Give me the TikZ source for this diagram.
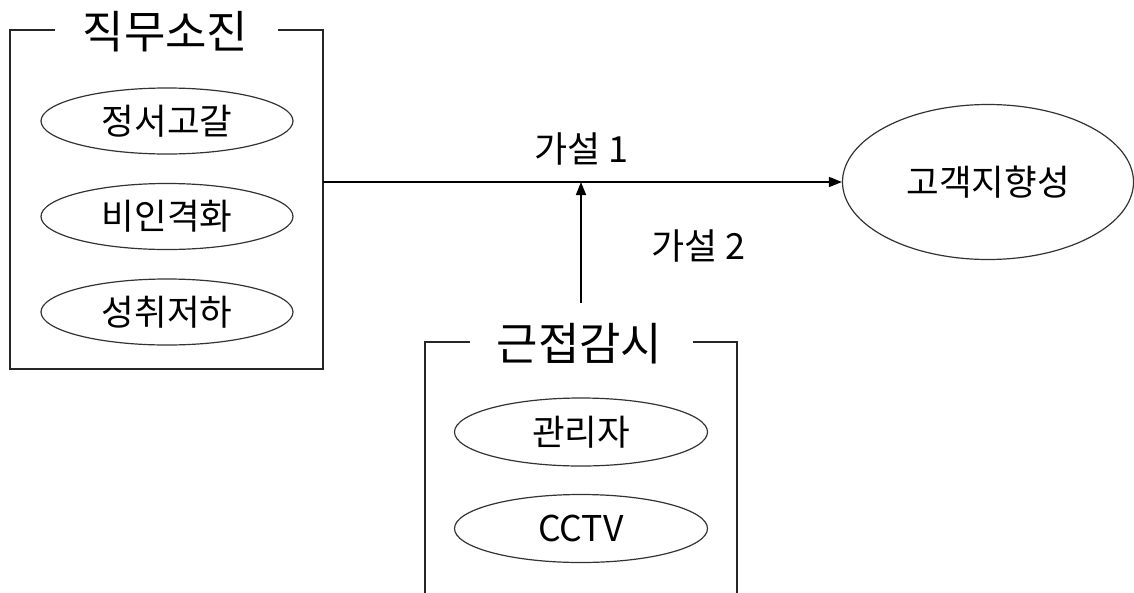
\documentclass[tikz,border=0pt]{standalone}
\usepackage{fontspec}
\setmainfont{Noto Sans CJK KR}
\usetikzlibrary{shapes.geometric,arrows.meta}
\begin{document}
\begin{tikzpicture}[x=1pt,y=-1pt,
 oval/.style={draw=black!80,line width=1.2pt,ellipse,inner sep=0pt,minimum width=252pt,minimum height=66pt,font=\fontsize{35.5}{40}\selectfont},
 titletext/.style={inner sep=0pt,font=\fontsize{45}{52}\selectfont},
 lbl/.style={inner sep=0pt,font=\fontsize{36}{40}\selectfont},
 frame/.style={line width=1.5pt,black!85},
 conn/.style={line width=1.6pt,black,-{Triangle[length=13pt,width=10pt]}}]
\useasboundingbox (0,0) rectangle (1134,592);
% box 1
\draw[frame] (55,30) -- (10,30) -- (10,369) -- (323,369) -- (323,30) -- (278,30);
\node[titletext] (t1) at (165.5,31.5) {직무소진};
\node[oval] (e1) at (167,121) {정서고갈};
\node[oval] (e2) at (167,216.5) {비인격화};
\node[oval] (e3) at (167,312) {성취저하};
% box 2
\draw[frame] (470,342) -- (425,342) -- (425,600) (737,600) -- (737,342) -- (693,342);
\node[titletext] (t2) at (579.5,343.5) {근접감시};
\node[oval,minimum width=253pt,minimum height=68pt] (m1) at (581,432) {관리자};
\node[oval,minimum width=253pt,minimum height=68pt] (m2) at (581,528.5) {CCTV};
% outcome
\node[oval,minimum width=291pt,minimum height=155pt] (goal) at (988,182) {고객지향성};
% connectors
\coordinate (b1r) at (323,182);
\coordinate (b2t) at (581,303);
\coordinate (jn) at (581,182);
\draw[conn] (b1r) -- (goal.west);
\draw[conn] (b2t) -- (jn);
\node[lbl] (h1) at (581.5,149) {가설 1};
\node[lbl] (h2) at (698.5,245.5) {가설 2};
\end{tikzpicture}
\end{document}
